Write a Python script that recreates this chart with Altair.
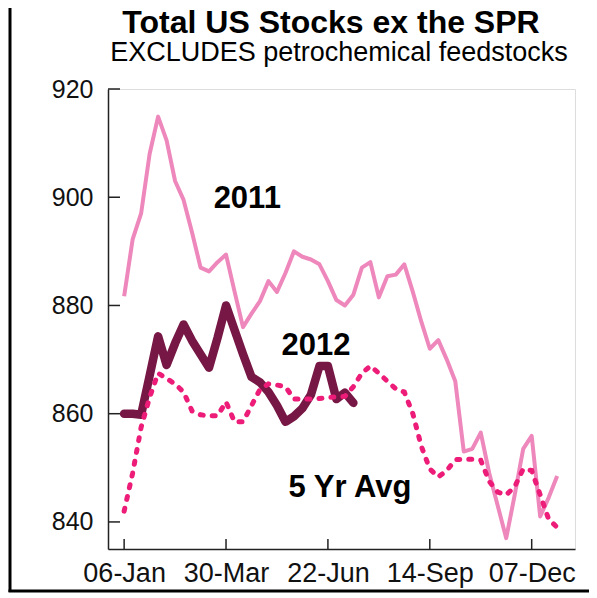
import altair as alt
import pandas as pd

# ---- data ----
vals_2011 = [881.7, 892.2, 897.0, 908.0, 914.9, 910.5, 903.0, 899.5, 893.5, 887.0,
             886.3, 888.0, 889.4, 882.6, 876.0, 878.5, 880.8, 884.5, 882.5, 886.0,
             890.0, 889.0, 888.5, 887.6, 884.5, 881.0, 880.0, 882.0, 887.0, 888.0,
             881.5, 885.4, 885.7, 887.6, 882.5, 877.0, 872.0, 873.6, 870.0, 866.0,
             853.0, 853.5, 856.5, 849.0, 843.0, 837.0, 845.0, 853.5, 855.9, 841.0,
             844.5, 848.5]
vals_2012 = [860.0, 860.0, 859.8, 867.0, 874.3, 869.0, 873.0, 876.5, 873.5, 871.0,
             868.5, 874.0, 880.0, 875.5, 871.0, 866.8, 865.8, 864.0, 861.5, 858.5,
             859.5, 861.0, 863.5, 868.8, 868.8, 862.7, 863.9, 862.0]
vals_5yr = [842.0, 849.0, 857.5, 863.0, 867.5, 866.5, 865.5, 864.0, 860.5, 859.8,
            859.6, 859.6, 862.2, 858.5, 858.5, 861.5, 864.5, 865.5, 865.3, 865.0,
            862.7, 862.7, 862.7, 862.8, 863.0, 863.1, 863.2, 865.0, 867.5, 868.8,
            867.5, 866.0, 864.6, 864.0, 860.0, 854.0, 849.8, 848.3, 849.5, 851.5,
            851.6, 851.6, 851.4, 847.5, 845.5, 845.0, 846.5, 849.8, 849.5, 845.0,
            840.5, 839.0]

tick_weeks = [0, 12, 24, 36, 48]
tick_labels = ["06-Jan", "30-Mar", "22-Jun", "14-Sep", "07-Dec"]
y_ticks = [840, 860, 880, 900, 920]

label_text = ["2011", "2012", "5 Yr Avg"]
label_week = [14.5, 22.6, 26.6]
label_val = [899.7, 872.6, 846.3]

title_text = "Total US Stocks ex the SPR"
subtitle_text = "EXCLUDES petrochemical feedstocks"

FONT = "Liberation Sans"
W, H = 467, 460

df11 = pd.DataFrame({"week": list(range(len(vals_2011))), "value": vals_2011})
df12 = pd.DataFrame({"week": list(range(len(vals_2012))), "value": vals_2012})
df5 = pd.DataFrame({"week": list(range(len(vals_5yr))), "value": vals_5yr})
dflab = pd.DataFrame({"text": label_text, "week": label_week, "value": label_val})
dfxt = pd.DataFrame({"week": tick_weeks})
dfyt = pd.DataFrame({"value": y_ticks})

label_js = "[" + ",".join("'%s'" % t for t in tick_labels) + "]"

xscale = alt.Scale(domain=[-1.9, 53.1], nice=False, zero=False)
yscale = alt.Scale(domain=[835, 920], nice=False, zero=False)

xaxis = alt.Axis(values=tick_weeks, labelExpr=label_js + "[round(datum.value/12)]",
                 title=None, ticks=False, grid=False, labelFontSize=27, labelFont=FONT,
                 labelColor="#111", labelPadding=11, domainColor="#222", domainWidth=1.5)
yaxis = alt.Axis(values=y_ticks, title=None, ticks=False, grid=False, labelFontSize=25,
                 labelFont=FONT, labelColor="#111", labelPadding=15,
                 domainColor="#222", domainWidth=1.5)

X = alt.X("week:Q", scale=xscale, axis=xaxis)
Y = alt.Y("value:Q", scale=yscale, axis=yaxis)

l2011 = alt.Chart(df11).mark_line(color="#EE88BC", strokeWidth=4, strokeJoin="round").encode(x=X, y=Y)
l2012 = alt.Chart(df12).mark_line(color="#771745", strokeWidth=8.5, strokeCap="round",
                                  strokeJoin="round").encode(x=X, y=Y)
l5 = alt.Chart(df5).mark_line(color="#EC1C78", strokeWidth=5, strokeDash=[3, 9],
                              strokeCap="round").encode(x=X, y=Y)

labels = alt.Chart(dflab).mark_text(font=FONT, fontSize=31, fontWeight="bold",
                                    color="#000", baseline="middle", align="center").encode(
    x=alt.X("week:Q", scale=xscale), y=alt.Y("value:Q", scale=yscale), text="text:N")

xt = alt.Chart(dfxt).mark_rule(color="#222", strokeWidth=1.5).encode(
    x=alt.X("week:Q", scale=xscale), y=alt.value(H), y2=alt.value(H - 10))
yt = alt.Chart(dfyt).mark_rule(color="#222", strokeWidth=1.5).encode(
    y=alt.Y("value:Q", scale=yscale), x=alt.value(0), x2=alt.value(12))

ttl = alt.Chart(pd.DataFrame({"t": [title_text]})).mark_text(
    font=FONT, fontSize=32, fontWeight="bold", color="#000", align="center",
    baseline="alphabetic").encode(x=alt.value(223), y=alt.value(-56), text="t:N")
sub = alt.Chart(pd.DataFrame({"t": [subtitle_text]})).mark_text(
    font=FONT, fontSize=27, color="#000", align="center",
    baseline="alphabetic").encode(x=alt.value(231), y=alt.value(-28), text="t:N")

bleft = alt.Chart(pd.DataFrame({"a": [0]})).mark_rule(color="#000", strokeWidth=3).encode(
    x=alt.value(-98), y=alt.value(-100), y2=alt.value(503))
bbottom = alt.Chart(pd.DataFrame({"a": [0]})).mark_rule(color="#000", strokeWidth=3).encode(
    x=alt.value(-99.5), x2=alt.value(500), y=alt.value(502))

chart = alt.layer(l2011, l2012, l5, labels, xt, yt, ttl, sub, bleft, bbottom).properties(
    width=W, height=H,
    autosize=alt.AutoSizeParams(type="none"),
    padding={"left": 100, "top": 81, "right": 14, "bottom": 50},
).configure_view(stroke="#777", strokeWidth=1.5).configure(background="white")

chart.save("out.html", embed_options={"renderer": "svg", "actions": False})
